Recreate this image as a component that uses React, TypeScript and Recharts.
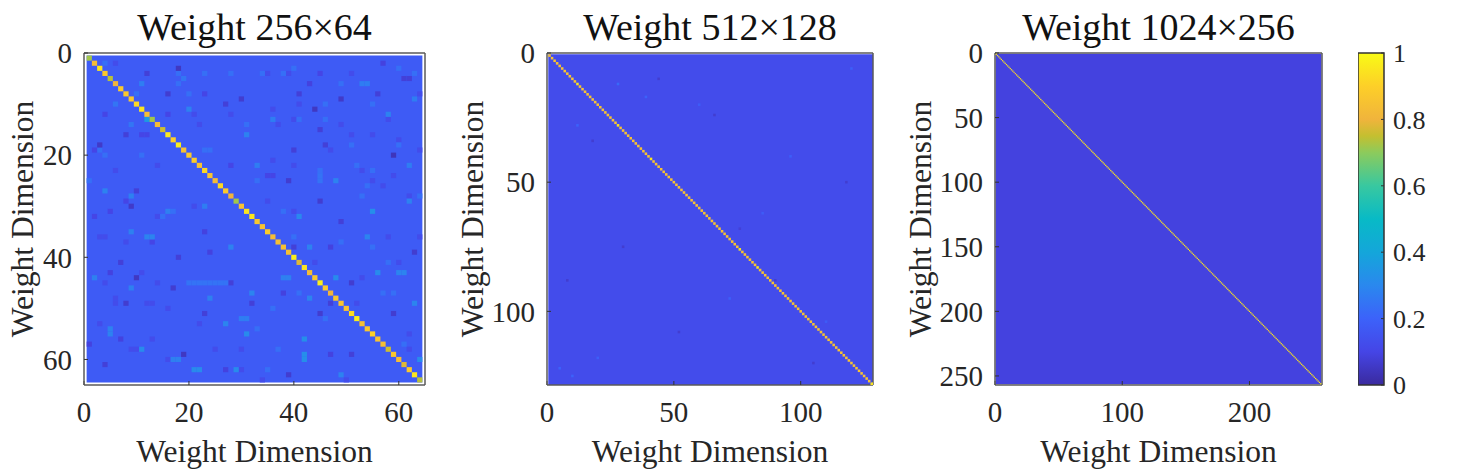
import React from "react";
import {
  Bar,
  BarChart,
  ReferenceArea,
  Scatter,
  ScatterChart,
  XAxis,
  YAxis,
} from "recharts";

const FONT = '"Liberation Serif", "Times New Roman", serif';
const INK = "#262626";
const FRAME = "#5a5a5a";

// colormap, [value, colour]
const colorStops: [number, string][] = [
  [0, "#3a2a9e"],
  [0.1, "#4545e6"],
  [0.2, "#3c62fa"],
  [0.3, "#2a88ee"],
  [0.4, "#14a6da"],
  [0.5, "#08bac6"],
  [0.6, "#38c8a0"],
  [0.7, "#8ccb5c"],
  [0.75, "#c4bf30"],
  [0.8, "#f0b43c"],
  [0.9, "#fdcf28"],
  [1, "#f9fb15"],
];
const colorbarTicks = [0, 0.2, 0.4, 0.6, 0.8, 1];

// 64 panel: diagonal, top to bottom
const diagonal64 = [
  0.72, 0.83, 0.95, 0.87, 0.74, 0.8, 0.88, 0.87, 0.87, 0.92, 0.95, 0.84, 0.72,
  0.83, 0.76, 0.96, 0.9, 0.97, 0.85, 0.88, 0.89, 0.85, 0.92, 0.86, 0.83, 0.92,
  0.88, 0.8, 0.72, 0.85, 0.95, 0.95, 0.87, 0.85, 0.88, 0.83, 0.84, 0.85, 0.84,
  0.97, 0.78, 0.95, 0.83, 0.87, 0.97, 0.88, 0.8, 0.87, 0.86, 0.85, 0.93, 0.97,
  0.84, 0.87, 0.9, 0.85, 0.84, 0.76, 0.87, 0.83, 0.78, 0.87, 0.95, 0.74,
];

// 64 panel: cells that stand out from the background, [column, row, value]
const darkCells64: [number, number, number][] = [
  [18, 3, 0.05], [12, 4, 0.08], [16, 8, 0.07], [23, 8, 0.1], [30, 9, 0.07],
  [27, 10, 0.08], [16, 12, 0.1], [4, 12, 0.1], [8, 16, 0.08], [11, 16, 0.1],
  [12, 16, 0.1], [3, 18, 0.06], [2, 19, 0.1], [18, 18, 0.1], [10, 27, 0.08],
  [9, 30, 0.06], [8, 29, 0.1], [28, 22, 0.1], [2, 32, 0.1], [5, 31, 0.1],
  [45, 4, 0.1], [43, 6, 0.09], [61, 5, 0.08], [62, 5, 0.08], [41, 8, 0.08],
  [49, 9, 0.06], [44, 11, 0.05], [45, 15, 0.08], [46, 18, 0.08], [40, 19, 0.08],
  [59, 20, 0.04], [39, 25, 0.07], [35, 24, 0.1], [36, 24, 0.1], [45, 29, 0.07],
  [56, 8, 0.08], [57, 2, 0.09], [10, 44, 0.05], [17, 46, 0.07], [8, 49, 0.07],
  [19, 59, 0.05], [4, 61, 0.08], [18, 40, 0.08], [7, 41, 0.08], [23, 35, 0.09],
  [23, 51, 0.08], [28, 45, 0.08], [32, 49, 0.08], [13, 37, 0.1], [24, 39, 0.09],
  [5, 43, 0.09], [1, 57, 0.09], [7, 56, 0.09], [27, 62, 0.09], [39, 63, 0.07],
  [45, 51, 0.07], [51, 45, 0.07], [59, 51, 0.07], [63, 39, 0.07], [47, 49, 0.08],
  [38, 47, 0.09], [49, 33, 0.08], [51, 59, 0.08], [47, 59, 0.09], [40, 38, 0.08],
  [47, 38, 0.09],
];
const brightCells64: [number, number, number][] = [
  [19, 5, 0.25], [4, 27, 0.285], [9, 28, 0.28], [31, 16, 0.285], [20, 11, 0.285],
  [11, 6, 0.27], [16, 31, 0.28], [23, 30, 0.27], [6, 10, 0.25], [12, 13, 0.36],
  [9, 14, 0.25], [53, 6, 0.27], [54, 6, 0.27], [36, 13, 0.27], [48, 25, 0.285],
  [58, 12, 0.285], [63, 9, 0.27], [62, 22, 0.27], [62, 29, 0.285], [55, 31, 0.32],
  [33, 22, 0.27], [41, 32, 0.3], [45, 24, 0.245], [45, 25, 0.245], [21, 62, 0.31],
  [22, 62, 0.31], [29, 62, 0.31], [17, 60, 0.28], [18, 60, 0.28], [5, 54, 0.285],
  [5, 55, 0.285], [31, 55, 0.31], [27, 53, 0.29], [13, 36, 0.29], [12, 36, 0.29],
  [9, 35, 0.28], [2, 44, 0.28], [9, 46, 0.28], [24, 48, 0.28], [32, 47, 0.29],
  [11, 58, 0.31], [28, 38, 0.285], [20, 45, 0.245], [21, 45, 0.245], [22, 45, 0.245],
  [23, 45, 0.245], [24, 45, 0.245], [25, 45, 0.245], [26, 45, 0.245], [27, 45, 0.245],
  [30, 52, 0.27], [31, 52, 0.27], [56, 43, 0.31], [60, 43, 0.29], [61, 43, 0.29],
  [42, 56, 0.32], [42, 59, 0.32], [42, 60, 0.32], [43, 38, 0.285], [48, 44, 0.31],
  [38, 44, 0.28], [39, 44, 0.28], [54, 36, 0.29], [63, 49, 0.29], [49, 63, 0.285],
  [43, 48, 0.29], [64, 60, 0.31],
];

// 64 panel: weaker mottling, [column, row]
const softDark64: [number, number][] = [
  [3, 36], [6, 48], [6, 49], [12, 49], [13, 49], [16, 50], [11, 43], [14, 45],
  [4, 45], [22, 53], [13, 56], [9, 58], [10, 58], [16, 60], [25, 58], [30, 62],
  [3, 53], [30, 58], [8, 37], [4, 36], [39, 4], [35, 4], [51, 4], [64, 8],
  [41, 10], [36, 11], [40, 13], [49, 14], [37, 14], [58, 13], [51, 16], [60, 17],
  [64, 19], [55, 16], [47, 19], [36, 21], [40, 22], [53, 23], [59, 24], [55, 25],
  [35, 29], [57, 26], [62, 28], [40, 31], [6, 2], [21, 12], [22, 14], [14, 22],
  [28, 12], [6, 23], [21, 30], [14, 32], [62, 58], [34, 64], [53, 44], [58, 36],
  [64, 36], [44, 41], [60, 41], [62, 55], [52, 49], [50, 64],
];
const softBright64: [number, number][] = [
  [34, 4], [38, 4], [40, 3], [60, 3], [63, 4], [49, 6], [46, 10], [41, 13],
  [46, 13], [55, 10], [51, 18], [60, 18], [52, 22], [55, 23], [45, 23], [54, 26],
  [53, 28], [64, 28], [38, 31], [33, 25], [18, 4], [4, 2], [23, 4], [28, 4],
  [20, 8], [10, 8], [18, 6], [31, 14], [23, 19], [24, 19], [11, 20], [4, 20],
  [3, 19], [1, 25], [15, 32], [17, 31], [33, 33], [40, 36], [49, 37], [55, 38],
  [58, 41], [41, 47], [36, 50], [57, 47], [46, 52], [33, 54], [37, 58], [61, 57],
  [35, 62], [59, 47],
];

// 128 panel: diagonal as digits, 8 = 0.85, 9 = 0.95
const diagonal128 =
  "8888888888898888888888888889888888888888988888888888888888888888" +
  "8888888888898888889888888888888888888888888888888888888888888889";
const brightCells128: [number, number, number][] = [
  [28, 12, 0.22], [39, 17, 0.2], [12, 28, 0.2], [5, 122, 0.2], [10, 125, 0.2],
  [20, 118, 0.19], [120, 6, 0.19], [96, 40, 0.19], [72, 95, 0.19], [110, 104, 0.18],
  [60, 20, 0.18], [85, 62, 0.18],
];
const darkCells128: [number, number, number][] = [
  [18, 34, 0.07], [44, 10, 0.07], [66, 24, 0.07], [30, 75, 0.07], [52, 108, 0.07],
  [90, 88, 0.07], [118, 50, 0.07], [105, 120, 0.07], [8, 88, 0.07], [76, 68, 0.08],
];

// 256 panel: diagonal as digits, same scale as above
const diagonal256 =
  "9999999999999988999999999999999999998899999999999999999999999999" +
  "9999999999899999999999999999999999999999999999999999999999999999" +
  "9999999999999999999999999999999999999999989999999999999999999999" +
  "9999999999999999999999899999999999999999999999999999999999999999";

const toColor = (v: number) => {
  let i = 0;
  while (i < colorStops.length - 2 && v > colorStops[i + 1][0]) i++;
  const [a, ca] = colorStops[i];
  const [b, cb] = colorStops[i + 1];
  const t = Math.min(1, Math.max(0, (v - a) / (b - a)));
  const ch = (c: string, o: number) => parseInt(c.slice(o, o + 2), 16);
  const mix = (o: number) => Math.round(ch(ca, o) + (ch(cb, o) - ch(ca, o)) * t);
  return `rgb(${mix(1)},${mix(3)},${mix(5)})`;
};

const cellsOf = (list: [number, number, number][]) =>
  list.map(([x, y, v]) => ({ x, y, v }));
const softCellsOf = (list: [number, number][], v: number) =>
  list.map(([x, y]) => ({ x, y, v }));
const diagonalOf = (values: number[]) =>
  values.map((v, i) => ({ x: i + 1, y: i + 1, v }));
const digitsToValues = (digits: string) =>
  digits.split("").map((d) => Number(d) / 10 + 0.05);

const NoLabel = () => <g />;

type PanelProps = {
  left: number;
  plotLeft: number;
  plotRight: number;
  labelOffset: number;
  title: string;
  size: number;
  xMax: number;
  yMax: number;
  xTicks: number[];
  yTicks: number[];
  background: number;
  cells: { x: number; y: number; v: number }[];
};

function Panel(p: PanelProps) {
  const width = p.plotRight + 20 - p.left;
  const height = 469;
  const top = 53;
  const bottomGap = 84;
  const cellW = (p.plotRight - p.plotLeft) / p.xMax;
  const cellH = (height - top - bottomGap) / p.yMax;

  const drawCell = (s: any) => (
    <rect
      x={s.cx - cellW / 2}
      y={s.cy - cellH / 2}
      width={cellW}
      height={cellH}
      fill={toColor(s.payload.v)}
    />
  );
  const tick = { fontSize: 29, fill: INK, fontFamily: FONT };
  const frame = { stroke: FRAME, strokeWidth: 1.5 };
  const tickLine = { stroke: "#333333" };

  return (
    <div style={{ position: "absolute", left: p.left, top: 0 }}>
      <ScatterChart
        width={width}
        height={height}
        margin={{ top: 0, right: 0, bottom: 0, left: 0 }}
      >
        <XAxis
          xAxisId="bottom"
          type="number"
          dataKey="x"
          orientation="bottom"
          domain={[0, p.xMax]}
          ticks={p.xTicks}
          height={bottomGap}
          tick={tick}
          tickSize={-4}
          tickMargin={20}
          tickLine={tickLine}
          axisLine={frame}
          interval={0}
          label={{
            value: "Weight Dimension",
            position: "insideBottom",
            offset: 7,
            fontSize: 31.5,
            fill: INK,
            fontFamily: FONT,
          }}
        />
        <XAxis
          xAxisId="top"
          type="number"
          orientation="top"
          domain={[0, p.xMax]}
          ticks={p.xTicks}
          height={top}
          tick={NoLabel}
          tickSize={-4}
          tickLine={tickLine}
          axisLine={frame}
          interval={0}
          label={{
            value: p.title,
            position: "insideTop",
            offset: 13,
            fontSize: 38,
            fill: "#111111",
            fontFamily: FONT,
          }}
        />
        <YAxis
          yAxisId="left"
          type="number"
          dataKey="y"
          orientation="left"
          reversed
          domain={[0, p.yMax]}
          ticks={p.yTicks}
          width={p.plotLeft - p.left}
          tick={tick}
          tickSize={-4}
          tickMargin={16}
          tickLine={tickLine}
          axisLine={frame}
          interval={0}
          label={{
            value: "Weight Dimension",
            angle: -90,
            position: "insideLeft",
            offset: p.labelOffset,
            style: { textAnchor: "middle" },
            fontSize: 31.5,
            fill: INK,
            fontFamily: FONT,
          }}
        />
        <YAxis
          yAxisId="right"
          type="number"
          orientation="right"
          reversed
          domain={[0, p.yMax]}
          ticks={p.yTicks}
          width={20}
          tick={NoLabel}
          tickSize={-4}
          tickLine={tickLine}
          axisLine={frame}
          interval={0}
        />
        <ReferenceArea
          xAxisId="bottom"
          yAxisId="left"
          x1={0.5}
          x2={p.size + 0.5}
          y1={0.5}
          y2={p.size + 0.5}
          fill={toColor(p.background)}
          fillOpacity={1}
          stroke="none"
        />
        <Scatter
          xAxisId="bottom"
          yAxisId="left"
          data={p.cells}
          shape={drawCell}
          isAnimationActive={false}
        />
      </ScatterChart>
    </div>
  );
}

function Colorbar() {
  const tick = { fontSize: 26, fill: INK, fontFamily: FONT, textAnchor: "start" };
  return (
    <div style={{ position: "absolute", left: 1358, top: 0 }}>
      <BarChart
        width={112}
        height={469}
        data={[{ name: "colorbar", level: 1 }]}
        margin={{ top: 53, right: 0, bottom: 84, left: 0 }}
        barCategoryGap={0}
      >
        <defs>
          <linearGradient id="parula" x1="0" y1="1" x2="0" y2="0">
            {colorStops.map(([v, c]) => (
              <stop key={v} offset={`${v * 100}%`} stopColor={c} />
            ))}
          </linearGradient>
        </defs>
        <XAxis dataKey="name" hide />
        <YAxis
          orientation="right"
          domain={[0, 1]}
          ticks={colorbarTicks}
          tickFormatter={(v) => String(v)}
          width={86}
          tick={tick}
          tickSize={-3}
          tickMargin={12}
          tickLine={{ stroke: "#333333" }}
          axisLine={false}
          interval={0}
        />
        <Bar
          dataKey="level"
          fill="url(#parula)"
          stroke="#333333"
          strokeWidth={1.5}
          isAnimationActive={false}
        />
      </BarChart>
    </div>
  );
}

export default function App() {
  return (
    <div
      style={{
        position: "absolute",
        left: 0,
        top: 0,
        width: 1470,
        height: 469,
        background: "#ffffff",
        fontFamily: FONT,
      }}
    >
      <Panel
        left={0}
        plotLeft={84}
        plotRight={425}
        labelOffset={22}
        title="Weight 256×64"
        size={64}
        xMax={65}
        yMax={65}
        xTicks={[0, 20, 40, 60]}
        yTicks={[0, 20, 40, 60]}
        background={0.175}
        cells={[
          ...softCellsOf(softDark64, 0.125),
          ...softCellsOf(softBright64, 0.235),
          ...cellsOf(darkCells64),
          ...cellsOf(brightCells64),
          ...diagonalOf(diagonal64),
        ]}
      />
      <Panel
        left={445}
        plotLeft={547}
        plotRight={873}
        labelOffset={27}
        title="Weight 512×128"
        size={128}
        xMax={128.5}
        yMax={128.5}
        xTicks={[0, 50, 100]}
        yTicks={[0, 50, 100]}
        background={0.125}
        cells={[
          ...cellsOf(darkCells128),
          ...cellsOf(brightCells128),
          ...diagonalOf(digitsToValues(diagonal128)),
        ]}
      />
      <Panel
        left={893}
        plotLeft={995}
        plotRight={1322}
        labelOffset={27}
        title="Weight 1024×256"
        size={256}
        xMax={257}
        yMax={257}
        xTicks={[0, 100, 200]}
        yTicks={[0, 50, 100, 150, 200, 250]}
        background={0.09}
        cells={diagonalOf(digitsToValues(diagonal256))}
      />
      <Colorbar />
    </div>
  );
}
